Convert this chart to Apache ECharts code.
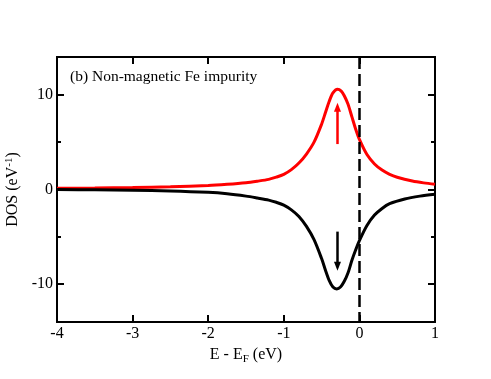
<!DOCTYPE html>
<html>
<head>
<meta charset="utf-8">
<script src="https://cdn.jsdelivr.net/npm/echarts@6/dist/echarts.min.js"></script>
<style>
  html, body { margin: 0; padding: 0; background: #fff; }
  #main { width: 491px; height: 379px; }
</style>
</head>
<body>
<div id="main"></div>
<script>
// spin up DOS (red)
var upE = [-4, -3.5, -3, -2.5, -2, -1.75, -1.5, -1.35, -1.2, -1.1, -1, -0.9, -0.8, -0.7, -0.6, -0.5, -0.45, -0.4, -0.35, -0.29, -0.24, -0.2, -0.15, -0.1, -0.05, 0, 0.1, 0.2, 0.3, 0.4, 0.5, 0.7, 0.85, 1];
var upDOS = [0.12, 0.15, 0.2, 0.28, 0.42, 0.55, 0.72, 0.88, 1.07, 1.3, 1.6, 2.1, 2.8, 3.75, 5.0, 6.9, 8.1, 9.3, 10.2, 10.6, 10.4, 9.9, 9.0, 7.7, 6.4, 5.3, 3.7, 2.7, 2.05, 1.6, 1.3, 0.9, 0.7, 0.55];

// spin down DOS (black)
var dnE = [-4, -3.5, -3, -2.5, -2, -1.75, -1.5, -1.35, -1.2, -1.1, -1, -0.9, -0.8, -0.7, -0.6, -0.5, -0.45, -0.4, -0.35, -0.3, -0.25, -0.2, -0.15, -0.1, -0.05, 0, 0.1, 0.2, 0.3, 0.4, 0.6, 0.8, 1];
var dnDOS = [0, -0.03, -0.08, -0.15, -0.3, -0.45, -0.7, -0.9, -1.12, -1.35, -1.65, -2.15, -2.85, -3.9, -5.3, -7.3, -8.5, -9.6, -10.3, -10.5, -10.3, -9.7, -8.8, -7.5, -6.4, -5.4, -3.8, -2.7, -2.0, -1.5, -1.0, -0.7, -0.5];

var xTicks = [-4, -3, -2, -1, 0, 1];
var yMajor = [-10, 0, 10];
var yMinor = [-5, 5];

// arrow positions (E, from, to)
var upArrow = [-0.29, 4.8, 8.7];
var dnArrow = [-0.29, -4.45, -8.1];

var serif = 'Liberation Serif';

function pairs(xs, ys) {
	var out = [];
	for (var i = 0; i < xs.length; i++) out.push([xs[i], ys[i]]);
	return out;
}

var chart = echarts.init(document.getElementById('main'), null, { renderer: 'canvas' });

var frame = { show: true, onZero: false, lineStyle: { color: '#000', width: 2 } };

function yAx(pos, vals, len, labels) {
	return {
		type: 'value', position: pos, min: -14, max: 14,
		axisLine: frame,
		splitLine: { show: false },
		axisTick: { show: true, inside: true, length: len, customValues: vals, lineStyle: { color: '#000', width: 2 } },
		axisLabel: labels ? { show: true, customValues: yMajor, color: '#000', fontFamily: serif, fontSize: 16, margin: 4 } : { show: false }
	};
}

var option = {
	backgroundColor: '#ffffff',
	animation: false,
	title: {
		text: '(b) Non-magnetic Fe impurity',
		left: 65, top: 64,
		textStyle: { fontFamily: serif, fontSize: 15.5, fontWeight: 'normal', color: '#000' }
	},
	grid: { left: 57, right: 56, top: 57, bottom: 57, outerBoundsMode: 'none' },
	xAxis: [{
		type: 'value', min: -4, max: 1, interval: 1, position: 'bottom',
		name: '{a|E - E}{sub|F}{a| (eV)}',
		nameLocation: 'middle', nameGap: 20,
		nameTextStyle: {
			rich: {
				a: { fontFamily: serif, fontSize: 16, color: '#000' },
				sub: { fontFamily: serif, fontSize: 11, color: '#000', padding: [8, 0, 0, 0] }
			}
		},
		axisLine: frame,
		splitLine: { show: false },
		axisTick: { inside: true, length: 7, lineStyle: { color: '#000', width: 2 } },
		axisLabel: { color: '#000', fontFamily: serif, fontSize: 16, margin: 4 }
	}, {
		type: 'value', min: -4, max: 1, interval: 1, position: 'top',
		axisLine: frame,
		splitLine: { show: false },
		axisTick: { inside: true, length: 7, lineStyle: { color: '#000', width: 2 } },
		axisLabel: { show: false }
	}],
	yAxis: [
		Object.assign(yAx('left', yMajor, 7, true), {
			name: '{a|DOS (eV}{sup|-1}{a|)}',
			nameLocation: 'middle', nameGap: 33, nameRotate: 90,
			nameTextStyle: {
				rich: {
					a: { fontFamily: serif, fontSize: 16, color: '#000' },
					sup: { fontFamily: serif, fontSize: 11, color: '#000', padding: [0, 0, 8, 0] }
				}
			}
		}),
		yAx('left', yMinor, 4, false),
		yAx('right', yMajor, 7, false),
		yAx('right', yMinor, 4, false)
	],
	series: [{
		type: 'line',
		data: pairs(upE, upDOS),
		smooth: 0.3,
		showSymbol: false,
		lineStyle: { color: '#ff0000', width: 3 },
		markLine: {
			silent: true,
			symbol: ['none', 'triangle'],
			symbolSize: [7, 9],
			label: { show: false },
			lineStyle: { color: '#ff0000', width: 2.5, type: 'solid' },
			data: [[{ coord: [upArrow[0], upArrow[1]] }, { coord: [upArrow[0], upArrow[2]] }]]
		}
	}, {
		type: 'line',
		data: pairs(dnE, dnDOS),
		smooth: 0.3,
		showSymbol: false,
		lineStyle: { color: '#000000', width: 3 },
		markLine: {
			silent: true,
			symbol: ['none', 'triangle'],
			symbolSize: [7, 9],
			label: { show: false },
			lineStyle: { color: '#000000', width: 2.5, type: 'solid' },
			data: [
				[{ coord: [dnArrow[0], dnArrow[1]] }, { coord: [dnArrow[0], dnArrow[2]] }],
				[{ xAxis: 0, y: 57, symbol: 'none', lineStyle: { type: [12, 5], width: 2.5 } }, { xAxis: 0, y: 322, symbol: 'none' }]
			]
		}
	}]
};

chart.setOption(option);
</script>
</body>
</html>
